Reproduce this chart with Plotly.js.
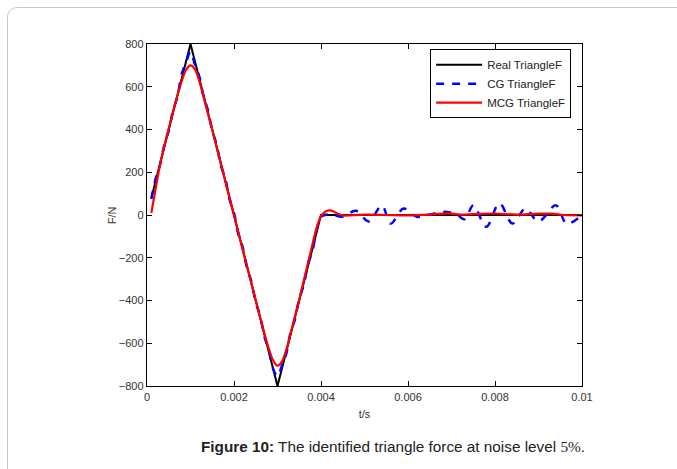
<!DOCTYPE html>
<html>
<head>
<meta charset="utf-8">
<script src="https://cdn.plot.ly/plotly-3.0.1.min.js"></script>
<style>
html,body{margin:0;padding:0;background:#fff;overflow:hidden;}
#wrap{position:relative;width:677px;height:469px;}
#chart{position:absolute;left:0;top:0;width:677px;height:469px;}
#frame{position:absolute;left:7px;top:7px;width:720px;height:520px;border:1px solid #c8c8c8;border-radius:10px;pointer-events:none;}
</style>
</head>
<body>
<div id="wrap"><div id="chart"></div><div id="frame"></div></div>
<script>
// Real triangle force (vertices)
const realT = [0.0001, 0.001, 0.003, 0.004, 0.01];
const realF = [80, 800, -800, 0, 0];

// CG identified force
const cgT = [0.0001,0.0002,0.0003,0.0004,0.0005,0.0006,0.0007,0.0008,0.0009,0.001,
  0.0011,0.0012,0.0013,0.0014,0.0015,0.0016,0.0017,0.0018,0.0019,0.002,
  0.0021,0.0022,0.0023,0.0024,0.0025,0.0026,0.0027,0.0028,0.0029,0.003,
  0.0031,0.0032,0.0033,0.0034,0.0035,0.0036,0.0037,0.0038,0.0039,0.004,
  0.0042,0.0045,0.0048,0.0051,0.0054,0.0056,0.0059,0.0062,0.0065,0.0068,
  0.0071,0.0073,0.0075,0.0078,0.0081,0.0084,0.0087,0.009,0.0094,0.00965,0.01];
const cgF = [75,170,235,330,395,490,555,660,715,765,
  705,650,555,490,395,330,230,170,70,10,
  -90,-150,-250,-310,-410,-470,-570,-630,-720,-755,
  -705,-650,-550,-490,-390,-330,-230,-170,-70,-8,
  3,-8,20,-30,45,-40,30,-8,2,15,
  5,-20,45,-55,55,-40,30,-30,45,-40,0];

// MCG identified force
const mcgT = [0.0001,0.0002,0.0003,0.0004,0.0005,0.0006,0.0007,0.0008,0.0009,0.001,
  0.0011,0.0012,0.0013,0.0014,0.0015,0.0016,0.0017,0.0018,0.0019,0.002,
  0.0021,0.0022,0.0023,0.0024,0.0025,0.0026,0.0027,0.0028,0.0029,0.003,
  0.0031,0.0032,0.0033,0.0034,0.0035,0.0036,0.0037,0.0038,0.0039,0.004,
  0.0041,0.0042,0.0043,0.0044,0.0045,0.005,0.0055,0.006,0.0065,0.0069,
  0.0072,0.0075,0.008,0.0085,0.009,0.0093,0.0096,0.01];
const mcgF = [10,125,235,325,405,485,560,628,680,700,
  682,628,552,475,398,318,238,158,78,-2,
  -82,-162,-242,-320,-400,-478,-555,-625,-680,-705,
  -686,-632,-555,-475,-395,-310,-225,-140,-60,-5,
  16,22,15,5,-2,2,0,-2,2,8,
  2,4,7,2,6,6,0,-2];

const xTicks = [0, 0.002, 0.004, 0.006, 0.008, 0.01];
const xTickText = ['0', '0.002', '0.004', '0.006', '0.008', '0.01'];
const yTicks = [-800, -600, -400, -200, 0, 200, 400, 600, 800];
const yTickText = ['\u2212800', '\u2212600', '\u2212400', '\u2212200', '0', '200', '400', '600', '800'];

const font = 'Liberation Sans, Arial, sans-serif';

const traces = [
  {x: realT, y: realF, type: 'scatter', mode: 'lines', name: 'Real TriangleF',
   line: {color: '#000000', width: 2}},
  {x: cgT, y: cgF, type: 'scatter', mode: 'lines', name: 'CG TriangleF',
   line: {color: '#0000ff', width: 2.5, dash: '8px,8px', shape: 'spline', smoothing: 1}},
  {x: mcgT, y: mcgF, type: 'scatter', mode: 'lines', name: 'MCG TriangleF',
   line: {color: '#ff0000', width: 2.2, shape: 'spline', smoothing: 1}}
];

const axisCommon = {
  showline: true, linecolor: '#000', linewidth: 1.3, mirror: 'ticks',
  ticks: 'inside', ticklen: 5, tickcolor: '#000', tickwidth: 1,
  showgrid: false, zeroline: false,
  tickfont: {family: font, size: 11, color: '#333'}
};

const layout = {
  width: 677, height: 469,
  margin: {l: 147, r: 95, t: 44, b: 83},
  paper_bgcolor: '#fff', plot_bgcolor: '#fff',
  showlegend: true,
  legend: {x: 0.975, y: 0.985, xanchor: 'right', yanchor: 'top',
    bgcolor: '#fff', bordercolor: '#000', borderwidth: 1,
    font: {family: font, size: 11.5, color: '#222'}, tracegroupgap: 0,
    itemwidth: 46},
  xaxis: Object.assign({}, axisCommon, {
    range: [0, 0.01], tickvals: xTicks, ticktext: xTickText,
    title: {text: 't/s', font: {family: font, size: 11, color: '#333'}, standoff: 8}
  }),
  yaxis: Object.assign({}, axisCommon, {
    range: [-800, 800], tickvals: yTicks, ticktext: yTickText
  }),
  annotations: [{
    xref: 'paper', yref: 'paper', x: -0.08, y: 0.5, xanchor: 'center', yanchor: 'middle',
    showarrow: false, textangle: -90, text: 'F/N',
    font: {family: font, size: 11, color: '#333'}
  }, {
    xref: 'paper', yref: 'paper', x: 0.565, y: -0.178, xanchor: 'center', yanchor: 'middle',
    showarrow: false,
    text: '<b>Figure 10:</b> The identified triangle force at noise level <span style="font-family:Liberation Serif, Times New Roman, serif">5%</span>.',
    font: {family: font, size: 15.3, color: '#222'}
  }]
};

Plotly.newPlot('chart', traces, layout, {displayModeBar: false, staticPlot: true});
</script>
</body>
</html>
